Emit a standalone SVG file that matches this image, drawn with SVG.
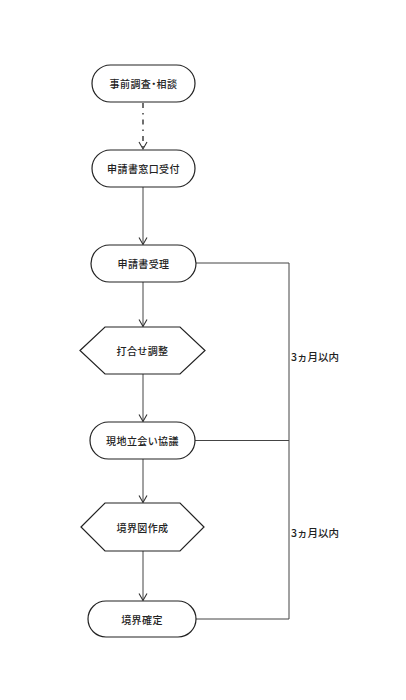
<svg xmlns="http://www.w3.org/2000/svg" width="406" height="700" viewBox="0 0 406 700">
<style>
.node{fill:#fff;stroke:#222;stroke-width:1.2}
.lbl{font-family:"Noto Sans CJK JP","Noto Sans",sans-serif;font-size:10px;font-weight:500;fill:#222;text-anchor:middle;dominant-baseline:central;letter-spacing:0.4px}
.palt{font-feature-settings:"palt"}
.side{font-family:"Noto Sans CJK JP","Noto Sans",sans-serif;font-size:10.5px;font-weight:500;fill:#222}
.edge{fill:none;stroke:#444;stroke-width:1}
.dd{stroke:#222;stroke-width:1.3;stroke-dasharray:5 5 1.5 5}
.ah{fill:none;stroke:#333;stroke-width:1.1;stroke-dasharray:none}
</style>
<defs>
<marker id="arr" markerWidth="10" markerHeight="10" refX="8" refY="5" orient="auto" markerUnits="userSpaceOnUse">
<path class="ah" d="M1,1 L8,5 L1,9"/>
</marker>
</defs>
<rect width="406" height="700" fill="#fff"/>
<g id="connectors">
<line class="edge dd" x1="143" y1="103" x2="143" y2="149" marker-end="url(#arr)"/>
<line class="edge" x1="143" y1="187" x2="143" y2="244.5" marker-end="url(#arr)"/>
<line class="edge" x1="143" y1="282" x2="143" y2="326.5" marker-end="url(#arr)"/>
<line class="edge" x1="143" y1="374" x2="143" y2="421.5" marker-end="url(#arr)"/>
<line class="edge" x1="143" y1="459" x2="143" y2="502.5" marker-end="url(#arr)"/>
<line class="edge" x1="143" y1="551" x2="143" y2="600.5" marker-end="url(#arr)"/>
<polyline class="edge" points="196,263 289,263 289,619 196,619"/>
<line class="edge" x1="195" y1="440.5" x2="289" y2="440.5"/>
<text class="side" x="291" y="361">3ヵ月以内</text>
<text class="side" x="291" y="537">3ヵ月以内</text>
</g>
<g id="n1">
<rect class="node" x="92" y="65" width="103" height="37" rx="18.5"/>
<text class="lbl palt" x="143.5" y="83.5">事前調査・相談</text>
</g>
<g id="n2">
<rect class="node" x="92" y="150" width="103" height="37" rx="18.5"/>
<text class="lbl" x="143.5" y="168.5">申請書窓口受付</text>
</g>
<g id="n3">
<rect class="node" x="91" y="245" width="105" height="37" rx="18.5"/>
<text class="lbl" x="143.5" y="263.5">申請書受理</text>
</g>
<g id="n4">
<polygon class="node" points="80,350.5 105,327 180,327 205,350.5 180,374 105,374"/>
<text class="lbl" x="142.5" y="350.5">打合せ調整</text>
</g>
<g id="n5">
<rect class="node" x="90" y="422" width="105" height="37" rx="18.5"/>
<text class="lbl" x="142.5" y="440.5">現地立会い協議</text>
</g>
<g id="n6">
<polygon class="node" points="81,527 105,503 180,503 204,527 180,551 105,551"/>
<text class="lbl" x="142.5" y="527">境界図作成</text>
</g>
<g id="n7">
<rect class="node" x="88" y="601" width="108" height="36" rx="18"/>
<text class="lbl" x="142" y="619">境界確定</text>
</g>
</svg>
